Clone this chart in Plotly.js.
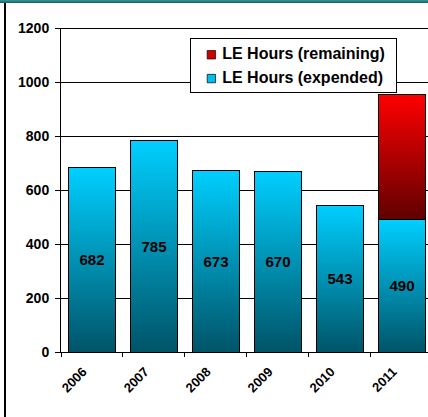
<!DOCTYPE html>
<html>
<head>
<meta charset="utf-8">
<script src="https://cdn.plot.ly/plotly-3.0.1.min.js"></script>
<style>
  html, body { margin: 0; padding: 0; background: #fff; }
  #wrap { position: relative; width: 428px; height: 417px; overflow: hidden; }
  #chart { position: absolute; left: 0; top: 0; width: 428px; height: 417px; }
  #topbar { position: absolute; left: 0; top: 0; width: 428px; height: 3px;
            background: linear-gradient(#3a9a9a, #0f5f62); z-index: 5; }
  #leftbar { position: absolute; left: 4px; top: 3px; width: 2px; height: 414px; background: #000; z-index: 5; }
</style>
</head>
<body>
<div id="wrap">
  <div id="chart"></div>
  <div id="topbar"></div>
  <div id="leftbar"></div>
</div>
<script>
const years = ['2006', '2007', '2008', '2009', '2010', '2011'];
const expended = [682, 785, 673, 670, 543, 490];
const remaining = [0, 0, 0, 0, 0, 465];
const expendedName = 'LE Hours (expended)';
const remainingName = 'LE Hours (remaining)';

const font = 'Liberation Sans, Arial, sans-serif';

const traces = [
  {
    type: 'bar', x: years, y: expended, name: expendedName,
    text: expended.map(String), textposition: 'inside', insidetextanchor: 'middle',
    textangle: 0,
    textfont: { family: font, size: 15, color: '#000', weight: 'bold' },
    marker: { color: '#00BFEA', line: { color: '#000', width: 1 } },
    hoverinfo: 'skip'
  },
  {
    type: 'bar', x: years, y: remaining, name: remainingName,
    marker: { color: '#D00000', line: { color: '#000', width: 1 } },
    hoverinfo: 'skip'
  }
];

const layout = {
  width: 428, height: 417,
  margin: { l: 61, r: 0, t: 28, b: 65 },
  paper_bgcolor: '#fff', plot_bgcolor: '#fff',
  barmode: 'stack', bargap: 0.23,
  showlegend: true,
  legend: {
    x: 0.352, y: 0.978, xanchor: 'left', yanchor: 'top',
    traceorder: 'reversed',
    bgcolor: '#fff', bordercolor: '#000', borderwidth: 1,
    font: { family: font, size: 16, color: '#000', weight: 'bold' },
    itemwidth: 30, tracegroupgap: 0
  },
  xaxis: {
    type: 'category', range: [-0.5, 5.42],
    tickson: 'boundaries', ticks: 'outside', ticklen: 4, tickcolor: '#000',
    showline: true, linecolor: '#000', linewidth: 1,
    tickangle: -45, showgrid: false,
    ticklabelstandoff: 6, ticklabelshift: -9,
    tickfont: { family: font, size: 13, color: '#000', weight: 'bold' }
  },
  yaxis: {
    range: [0, 1200], dtick: 200, tick0: 0,
    ticks: 'outside', ticklen: 5, tickcolor: '#000',
    showline: true, linecolor: '#000', linewidth: 1,
    showgrid: true, gridcolor: '#000', gridwidth: 1,
    zeroline: false,
    ticklabelstandoff: 3,
    tickfont: { family: font, size: 14, color: '#000', weight: 'bold' }
  },
  shapes: [
    { type: 'line', layer: 'below', xref: 'paper', x0: 0, x1: 1, yref: 'y', y0: 1200, y1: 1200,
      line: { color: '#000', width: 2 } }
  ]
};

Plotly.newPlot('chart', traces, layout, { displayModeBar: false, staticPlot: true }).then(function (gd) {
  const svg = gd.querySelector('.main-svg');
  const ns = 'http://www.w3.org/2000/svg';
  let defs = svg.querySelector('defs');
  if (!defs) { defs = document.createElementNS(ns, 'defs'); svg.insertBefore(defs, svg.firstChild); }
  function grad(id, top, bottom) {
    const g = document.createElementNS(ns, 'linearGradient');
    g.setAttribute('id', id);
    g.setAttribute('x1', '0'); g.setAttribute('y1', '0');
    g.setAttribute('x2', '0'); g.setAttribute('y2', '1');
    [[0, top], [1, bottom]].forEach(function (s) {
      const st = document.createElementNS(ns, 'stop');
      st.setAttribute('offset', s[0]);
      st.setAttribute('stop-color', s[1]);
      st.setAttribute('stop-opacity', '1');
      g.appendChild(st);
    });
    defs.appendChild(g);
  }
  grad('gradCyan', '#00CFFF', '#005468');
  grad('gradRed', '#FF0000', '#600000');
  const barTraces = gd.querySelectorAll('.barlayer .trace');
  barTraces.forEach(function (t, i) {
    const id = i === 0 ? 'gradCyan' : 'gradRed';
    t.querySelectorAll('.point path').forEach(function (p) {
      p.style.fill = 'url(#' + id + ')';
      p.style.fillOpacity = '1';
      p.style.opacity = '1';
    });
  });

  // legend: text closer to the swatch, small swatches, box fitted to entries
  const texts = Array.from(gd.querySelectorAll('.legend text.legendtext'));
  texts.forEach(function (t) {
    const x = parseFloat(t.getAttribute('x') || '40');
    t.setAttribute('x', String(x - 9));
  });
  const entries = Array.from(gd.querySelectorAll('.legend .traces'));
  let right = -Infinity, textLeft = Infinity;
  const centers = [];
  entries.forEach(function (e) {
    const t = e.querySelector('text.legendtext');
    const p = e.querySelector('.legendpoints path');
    if (!t) return;
    const tr = t.getBoundingClientRect();
    right = Math.max(right, tr.right);
    textLeft = Math.min(textLeft, tr.left);
    const cy = (tr.top + tr.bottom) / 2;
    centers.push(cy);
    if (p) {
      p.setAttribute('transform', 'scale(0.7)');
      p.style.stroke = '#000';
      const r0 = p.getBoundingClientRect();
      const dx = (tr.left - 15) - r0.left;
      const dy = cy - (r0.top + r0.bottom) / 2 + 1;
      p.setAttribute('transform', 'translate(' + dx + ',' + dy + ') scale(0.7)');
    }
  });
  const bg = gd.querySelector('.legend rect.bg');
  if (bg && centers.length) {
    const br = bg.getBoundingClientRect();
    const L = textLeft - 32, R = right + 12;
    const T = Math.min.apply(null, centers) - 15, B = Math.max.apply(null, centers) + 15;
    const bx = parseFloat(bg.getAttribute('x') || '0');
    const by = parseFloat(bg.getAttribute('y') || '0');
    bg.setAttribute('x', String(bx + (L - br.left)));
    bg.setAttribute('y', String(by + (T - br.top)));
    bg.setAttribute('width', String(R - L));
    bg.setAttribute('height', String(B - T));
    bg.style.stroke = '#000';
    bg.style.strokeWidth = '1px';
    bg.style.strokeOpacity = '1';
    bg.style.fill = '#fff';
  }
});
</script>
</body>
</html>
